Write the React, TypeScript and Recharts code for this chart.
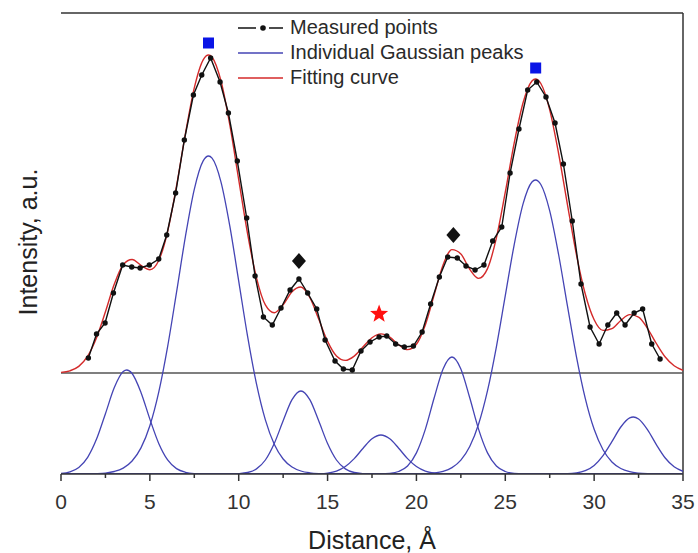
import React from "react";
import {
  ComposedChart,
  Line,
  Scatter,
  XAxis,
  YAxis,
  ReferenceLine,
  Legend,
  Label,
} from "recharts";

// measured profile (black dots)
const measuredX = [
  1.54, 2.0, 2.48, 2.95, 3.47, 3.98, 4.45, 4.97, 5.5, 5.95, 6.45, 6.94, 7.45,
  7.92, 8.42, 8.95, 9.42, 9.92, 10.45, 10.92, 11.39, 11.89, 12.38, 12.89,
  13.39, 13.88, 14.39, 14.86, 15.42, 15.89, 16.39, 16.88, 17.39, 17.9, 18.33,
  18.83, 19.32, 19.83, 20.32, 20.8, 21.29, 21.76, 22.3, 22.79, 23.3, 23.8,
  24.29, 24.8, 25.27, 25.77, 26.26, 26.77, 27.29, 27.8, 28.27, 28.77, 29.26,
  29.77, 30.28, 30.77, 31.27, 31.74, 32.25, 32.73, 33.24, 33.71,
];
const measuredY = [
  116, 140, 151, 181, 209, 207, 206, 209, 215, 239, 281, 334, 379, 399, 416,
  392, 361, 313, 256, 198, 157, 149, 166, 184, 195, 181, 165, 134, 113, 105,
  104, 123, 132, 137, 138, 130, 127, 128, 142, 170, 197, 217, 216, 208, 204,
  209, 233, 247, 301, 345, 384, 392, 377, 351, 310, 253, 190, 147, 130, 149,
  161, 149, 161, 165, 130, 115,
];

// fitting curve (red)
const fitX = [
  0, 0.5, 1, 1.5, 2, 2.5, 3, 3.5, 4, 4.5, 5, 5.5, 6, 6.5, 7, 7.5, 8, 8.3, 8.5,
  9, 9.5, 10, 10.5, 11, 11.5, 12, 12.5, 13, 13.5, 14, 14.5, 15, 15.5, 16, 16.5,
  17, 17.5, 18, 18.5, 19, 19.5, 20, 20.5, 21, 21.5, 22, 22.5, 23, 23.5, 24,
  24.5, 25, 25.5, 26, 26.5, 26.7, 27, 27.5, 28, 28.5, 29, 29.5, 30, 30.5, 31,
  31.5, 32, 32.5, 33, 33.5, 34, 34.5, 35,
];
const fitY = [
  101.6, 103.2, 107.6, 117.8, 136.2, 162.2, 189.9, 209.3, 214.5, 208.7, 204.2,
  213.5, 242.5, 288.0, 340.1, 386.1, 414.2, 419.0, 416.8, 393.2, 349.0, 294.3,
  240.1, 196.2, 169.1, 161.3, 169.2, 182.3, 187.0, 176.5, 154.9, 132.6, 118.0,
  113.6, 117.9, 127.2, 136.2, 140.1, 136.8, 129.3, 124.4, 129.7, 148.9, 179.2,
  209.1, 224.4, 220.0, 204.7, 195.6, 205.4, 236.2, 281.8, 330.8, 371.2, 393.0,
  395.0, 390.5, 364.2, 320.5, 269.2, 219.7, 180.0, 154.3, 143.6, 145.4, 153.5,
  159.4, 156.9, 145.7, 130.5, 117.0, 108.2, 103.7,
];

// individual gaussian peaks (blue)
const g1X = [0, 0.5, 1, 1.5, 2, 2.5, 3, 3.5, 3.7, 4, 4.5, 5, 5.5, 6, 6.5, 7, 7.5, 8, 35];
const g1Y = [0.6, 2.2, 6.6, 16.7, 34.9, 60.3, 86.4, 102.4, 104, 100.5, 81.6, 54.9, 30.6, 14.1, 5.4, 1.7, 0.4, 0.1, 0];
const g2X = [0, 1.5, 2, 2.5, 3, 3.5, 4, 4.5, 5, 5.5, 6, 6.5, 7, 7.5, 8, 8.3, 8.5, 9, 9.5, 10, 10.5, 11, 11.5, 12, 12.5, 13, 13.5, 14, 14.5, 15, 35];
const g2Y = [0, 0.1, 0.3, 0.9, 2.5, 5.9, 13.0, 26.1, 48.3, 81.9, 127.4, 181.6, 237.4, 284.7, 313.1, 318, 315.8, 292.2, 247.9, 192.9, 137.6, 90.1, 54.1, 29.8, 15.0, 7.0, 3.0, 1.2, 0.4, 0.1, 0];
const g3X = [0, 9.5, 10, 10.5, 11, 11.5, 12, 12.5, 13, 13.5, 14, 14.5, 15, 15.5, 16, 16.5, 17, 17.5, 35];
const g3Y = [0, 0.1, 0.4, 1.5, 5.1, 14.0, 30.5, 53.2, 74.3, 83, 74.3, 53.2, 30.5, 14.0, 5.1, 1.5, 0.4, 0.1, 0];
const g4X = [0, 14, 14.5, 15, 15.5, 16, 16.5, 17, 17.5, 18, 18.5, 19, 19.5, 20, 20.5, 21, 21.5, 22, 35];
const g4Y = [0, 0.05, 0.25, 0.95, 2.95, 7.5, 15.4, 25.8, 35.2, 39, 35.2, 25.8, 15.4, 7.5, 2.95, 0.95, 0.25, 0.05, 0];
const g5X = [0, 18, 18.5, 19, 19.5, 20, 20.5, 21, 21.5, 22, 22.5, 23, 23.5, 24, 24.5, 25, 25.5, 26, 35];
const g5Y = [0, 0.1, 0.6, 2.5, 8.0, 21.1, 44.6, 76.2, 105.1, 117, 105.1, 76.2, 44.6, 21.1, 8.0, 2.5, 0.6, 0.1, 0];
const g6X = [0, 20, 20.5, 21, 21.5, 22, 22.5, 23, 23.5, 24, 24.5, 25, 25.5, 26, 26.5, 26.7, 27, 27.5, 28, 28.5, 29, 29.5, 30, 30.5, 31, 31.5, 32, 32.5, 33, 33.5, 35];
const g6Y = [0, 0.1, 0.4, 1.1, 2.7, 6.4, 13.9, 27.5, 50.0, 83.3, 127.2, 178.3, 229.2, 270.1, 292.0, 294, 289.5, 263.2, 219.5, 167.9, 117.7, 75.7, 44.7, 24.2, 12.0, 5.5, 2.3, 0.9, 0.3, 0.1, 0];
const g7X = [0, 28.5, 29, 29.5, 30, 30.5, 31, 31.5, 32, 32.2, 32.5, 33, 33.5, 34, 34.5, 35];
const g7Y = [0, 0.3, 1.0, 3.3, 8.6, 18.4, 32.4, 47.0, 56.1, 57, 55.0, 44.4, 29.4, 16.0, 7.2, 2.7];

// annotation markers
const squareX = [8.3, 26.71];
const squareY = [431, 406];
const diamondX = [13.39, 22.08];
const diamondY = [213, 239];
const starX = [17.9];
const starY = [160];

const baselineLevel = 101;
const tickValues = [0, 2.5, 5, 7.5, 10, 12.5, 15, 17.5, 20, 22.5, 25, 27.5, 30, 32.5, 35];

const FONT = "'Liberation Sans', Arial, sans-serif";
const BLUE = "#4444b4";
const RED = "#d42a2a";

const zip = (xs: number[], ys: number[]) => xs.map((x, i) => ({ x, y: ys[i] }));

const gaussians = [
  zip(g1X, g1Y),
  zip(g2X, g2Y),
  zip(g3X, g3Y),
  zip(g4X, g4Y),
  zip(g5X, g5Y),
  zip(g6X, g6Y),
  zip(g7X, g7Y),
];

function AxisTick({ x, y, payload }: any) {
  const major = payload.value % 5 === 0;
  return (
    <g>
      <line x1={x} x2={x} y1={y} y2={y + (major ? 7 : 4)} stroke="#333" strokeWidth={1.5} />
      {major && (
        <text x={x} y={y + 27} textAnchor="middle" dominantBaseline="central" fontSize={21} fill="#333" fontFamily={FONT}>
          {payload.value}
        </text>
      )}
    </g>
  );
}

function SquareMark({ cx, cy }: any) {
  return <rect x={cx - 5.5} y={cy - 5.5} width={11} height={11} fill="#0a14e6" />;
}

function DiamondMark({ cx, cy }: any) {
  return (
    <polygon
      points={`${cx},${cy - 8} ${cx + 7},${cy} ${cx},${cy + 8} ${cx - 7},${cy}`}
      fill="#111"
    />
  );
}

function StarMark({ cx, cy }: any) {
  const pts: string[] = [];
  for (let i = 0; i < 10; i++) {
    const r = i % 2 === 0 ? 9.5 : 4;
    const a = -Math.PI / 2 + (i * Math.PI) / 5;
    pts.push(`${cx + r * Math.cos(a)},${cy + r * Math.sin(a)}`);
  }
  return <polygon points={pts.join(" ")} fill="#ff1010" />;
}

function ChartLegend() {
  const row = { display: "flex", alignItems: "center", height: 25 } as const;
  return (
    <div style={{ fontFamily: FONT, fontSize: 20, color: "#2a2a2a", lineHeight: "25px" }}>
      <div style={row}>
        <svg width={50} height={12}>
          <line x1={2} x2={20} y1={6} y2={6} stroke="#111" strokeWidth={1.5} />
          <circle cx={27} cy={6} r={2.8} fill="#111" />
          <line x1={33} x2={47} y1={6} y2={6} stroke="#111" strokeWidth={1.5} />
        </svg>
        <span style={{ marginLeft: 4 }}>Measured points</span>
      </div>
      <div style={row}>
        <svg width={50} height={12}>
          <line x1={2} x2={47} y1={6} y2={6} stroke={BLUE} strokeWidth={1.5} />
        </svg>
        <span style={{ marginLeft: 4 }}>Individual Gaussian peaks</span>
      </div>
      <div style={row}>
        <svg width={50} height={12}>
          <line x1={2} x2={47} y1={6} y2={6} stroke={RED} strokeWidth={1.5} />
        </svg>
        <span style={{ marginLeft: 4 }}>Fitting curve</span>
      </div>
    </div>
  );
}

export default function App() {
  return (
    <div style={{ position: "absolute", left: 0, top: 0, width: 698, height: 553, background: "#fff" }}>
      <ComposedChart width={698} height={553} margin={{ top: 13, right: 15, bottom: 0, left: 61 }}>
        <XAxis
          dataKey="x"
          type="number"
          domain={[0, 35]}
          ticks={tickValues}
          interval={0}
          tickLine={false}
          tickSize={0}
          tickMargin={0}
          tick={<AxisTick />}
          height={79}
          axisLine={{ stroke: "#333", strokeWidth: 1.5 }}
          allowDataOverflow
        >
          <Label
            value="Distance, Å"
            position="insideBottom"
            offset={4}
            style={{ fontFamily: FONT, fontSize: 25, fill: "#222" }}
          />
        </XAxis>
        <YAxis
          type="number"
          domain={[0, 461]}
          width={0}
          tick={false}
          tickLine={false}
          axisLine={{ stroke: "#333", strokeWidth: 1.5 }}
          allowDataOverflow
        />
        <ReferenceLine y={461} stroke="#333" strokeWidth={1.5} />
        <ReferenceLine x={35} stroke="#333" strokeWidth={1.5} />
        <ReferenceLine y={baselineLevel} stroke="#555" strokeWidth={1.5} />
        {gaussians.map((g, i) => (
          <Line
            key={`g${i}`}
            data={g}
            dataKey="y"
            type="monotone"
            stroke={BLUE}
            strokeWidth={1.3}
            dot={false}
            isAnimationActive={false}
          />
        ))}
        <Line
          data={zip(fitX, fitY)}
          dataKey="y"
          type="monotone"
          stroke={RED}
          strokeWidth={1.4}
          dot={false}
          isAnimationActive={false}
        />
        <Line
          data={zip(measuredX, measuredY)}
          dataKey="y"
          type="linear"
          stroke="#111"
          strokeWidth={1.4}
          dot={{ r: 2.7, fill: "#111", stroke: "#111", strokeWidth: 0 }}
          isAnimationActive={false}
        />
        <Scatter data={zip(squareX, squareY)} dataKey="y" shape={<SquareMark />} isAnimationActive={false} />
        <Scatter data={zip(diamondX, diamondY)} dataKey="y" shape={<DiamondMark />} isAnimationActive={false} />
        <Scatter data={zip(starX, starY)} dataKey="y" shape={<StarMark />} isAnimationActive={false} />
        <Legend
          layout="horizontal"
          verticalAlign="middle"
          content={<ChartLegend />}
          wrapperStyle={{ top: 15, left: 236, width: 320 }}
        />
      </ComposedChart>
      <div
        style={{
          position: "absolute",
          left: 28,
          top: 242,
          transform: "translate(-50%, -50%) rotate(-90deg)",
          whiteSpace: "nowrap",
          fontFamily: FONT,
          fontSize: 25,
          color: "#222",
          lineHeight: "28px",
        }}
      >
        Intensity, a.u.
      </div>
    </div>
  );
}
